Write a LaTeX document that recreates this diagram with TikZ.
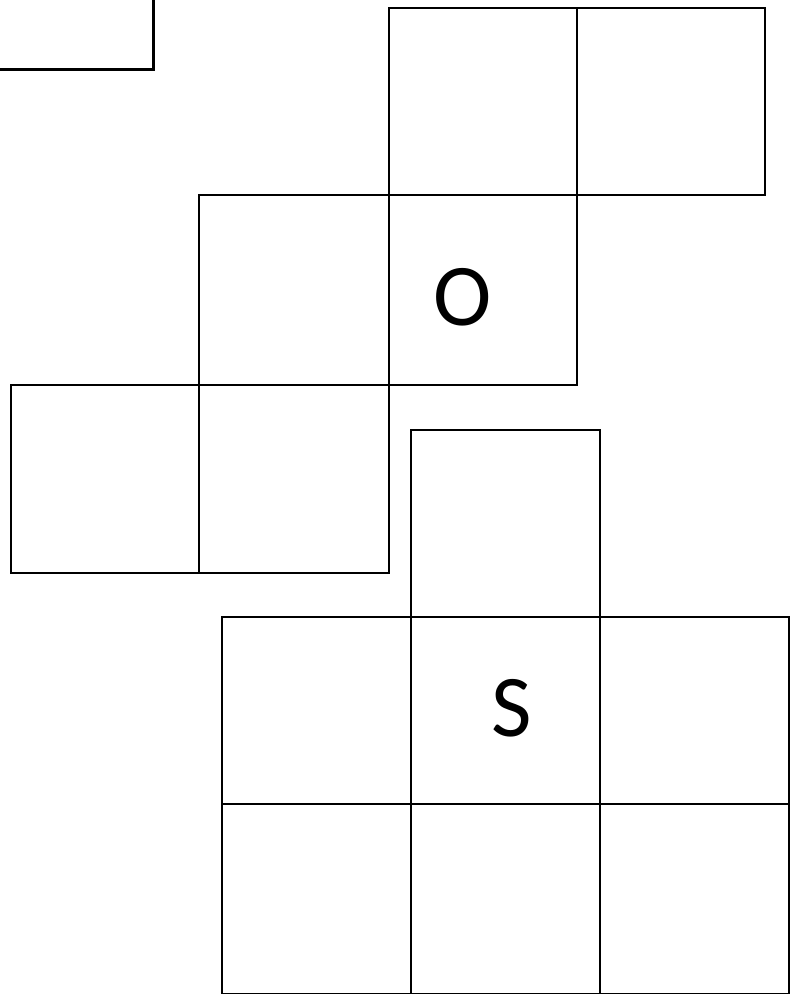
\documentclass[tikz,border=0pt]{standalone}
\usepackage{fontspec}
\setmainfont{Carlito}
\begin{document}
\begin{tikzpicture}[x=1pt,y=-1pt,
  cell/.style={draw=black,line width=2.8pt},
  lbl/.style={inner sep=0pt,font=\fontsize{88}{90}\selectfont}]
\useasboundingbox (0,0) rectangle (795,994);
\clip (0,0) rectangle (795,994);
% partial box top-left
\draw[cell] (-20,-20) rectangle (153.5,69.5);
% upper group
\draw[cell] (389,8) rectangle (577,195);
\draw[cell] (577,8) rectangle (765,195);
\draw[cell] (199,195) rectangle (389,385);
\draw[cell] (389,195) rectangle (577,385);
\draw[cell] (11,385) rectangle (199,573);
\draw[cell] (199,385) rectangle (389,573);
% lower group
\draw[cell] (411,430) rectangle (600,617);
\draw[cell] (222,617) rectangle (411,804);
\draw[cell] (411,617) rectangle (600,804);
\draw[cell] (600,617) rectangle (789,804);
\draw[cell] (222,804) rectangle (411,994.5);
\draw[cell] (411,804) rectangle (600,994.5);
\draw[cell] (600,804) rectangle (789,994.5);
% labels
\node[lbl] (o) at (463,297.5) {O};
\node[lbl] (s) at (511.5,708) {S};
\end{tikzpicture}
\end{document}
